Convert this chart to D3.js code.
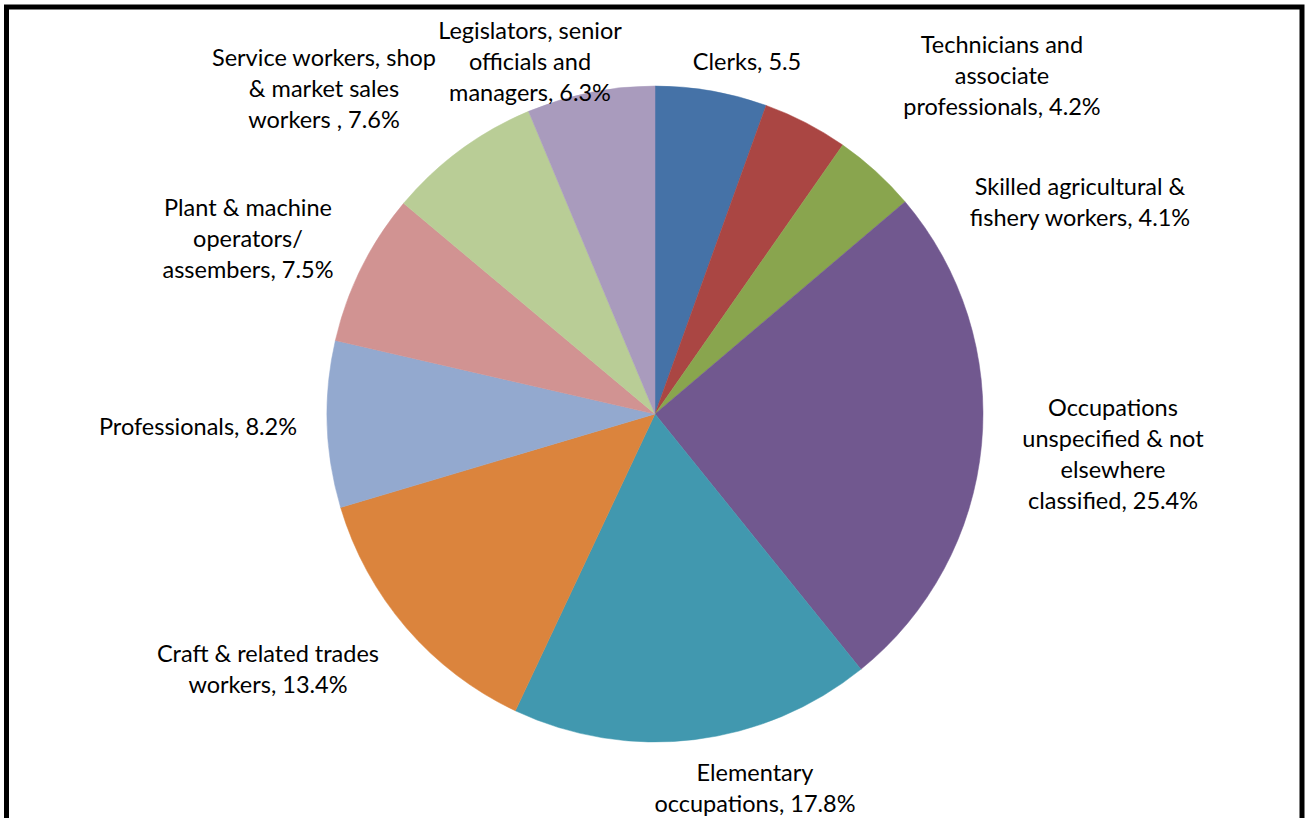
<!DOCTYPE html>
<html>
<head>
<meta charset="utf-8">
<script src="https://cdn.jsdelivr.net/npm/d3@7"></script>
<style>
  html, body { margin: 0; padding: 0; background: #fff; }
  svg { display: block; }
  text { font-family: Lato, "Open Sans", sans-serif; fill: #000; }
</style>
</head>
<body>
<svg id="chart" width="1305" height="818"></svg>
<script>
// Occupation groups, clockwise from 12 o'clock
const categories = [
  "Clerks",
  "Technicians and associate professionals",
  "Skilled agricultural & fishery workers",
  "Occupations unspecified & not elsewhere classified",
  "Elementary occupations",
  "Craft & related trades workers",
  "Professionals",
  "Plant & machine operators/ assembers",
  "Service workers, shop & market sales workers",
  "Legislators, senior officials and managers"
];
const shares = [5.5, 4.2, 4.1, 25.4, 17.8, 13.4, 8.2, 7.5, 7.6, 6.3];

// Label text as it wraps on the chart
const labelLines = [
  ["Clerks, 5.5"],
  ["Technicians and", "associate", "professionals, 4.2%"],
  ["Skilled agricultural &", "fishery workers, 4.1%"],
  ["Occupations", "unspecified & not", "elsewhere", "classified, 25.4%"],
  ["Elementary", "occupations, 17.8%"],
  ["Craft & related trades", "workers, 13.4%"],
  ["Professionals, 8.2%"],
  ["Plant & machine", "operators/", "assembers, 7.5%"],
  ["Service workers, shop", "& market sales", "workers , 7.6%"],
  ["Legislators, senior", "officials and", "managers, 6.3%"]
];

const palette = ["#4572A7", "#AA4643", "#89A54E", "#71588F", "#4198AF",
                 "#DB843D", "#93A9CF", "#D19392", "#B9CD96", "#A99BBD"];

// Label block centres (x, y of block middle)
const labelAnchors = [
  [747, 62], [1002, 76], [1080, 202], [1113, 454], [755, 788],
  [268, 669], [198, 427], [248, 239], [324, 89], [530, 62]
];

const cx = 655, cy = 414, R = 328;
const lineH = 31;

const svg = d3.select("#chart");

// outer frame
svg.append("rect")
  .attr("x", 6.5).attr("y", 7).attr("width", 1295.5).attr("height", 830)
  .attr("fill", "none").attr("stroke", "#000").attr("stroke-width", 5);

const data = categories.map((c, i) => ({ name: c, value: shares[i], i }));

const pie = d3.pie().sort(null).value(d => d.value);
const arc = d3.arc().innerRadius(0).outerRadius(R);
const color = d3.scaleOrdinal().domain(categories).range(palette);

const g = svg.append("g").attr("transform", `translate(${cx},${cy})`);
g.selectAll("path")
  .data(pie(data))
  .join("path")
  .attr("d", arc)
  .attr("fill", d => color(d.data.name))
  .attr("stroke", d => color(d.data.name))
  .attr("stroke-width", 0.5);

svg.append("g")
  .selectAll("text")
  .data(data)
  .join("text")
  .attr("text-anchor", "middle")
  .attr("font-size", 23.5)
  .each(function (d) {
    const lines = labelLines[d.i];
    const [ax, ay] = labelAnchors[d.i];
    const top = ay - (lines.length - 1) * lineH / 2;
    d3.select(this).selectAll("tspan")
      .data(lines)
      .join("tspan")
      .attr("x", ax)
      .attr("y", (l, k) => top + k * lineH)
      .attr("dy", "0.35em")
      .text(l => l);
  });
</script>
</body>
</html>
